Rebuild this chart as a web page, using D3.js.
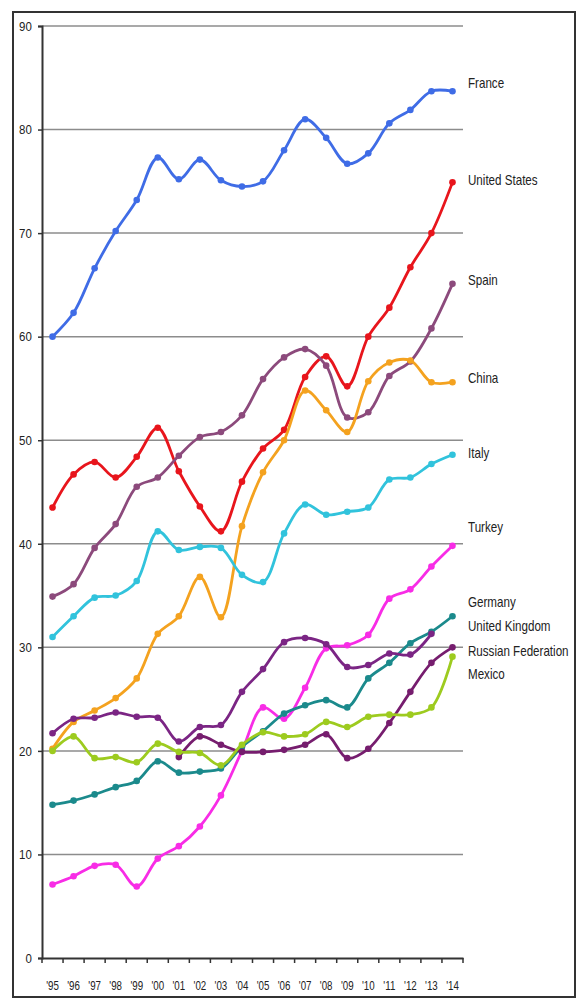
<!DOCTYPE html>
<html>
<head>
<meta charset="utf-8">
<script src="https://cdn.jsdelivr.net/npm/d3@7/dist/d3.min.js"></script>
<style>
html,body{margin:0;padding:0;background:#fff;}
svg{display:block;}
text{font-family:"Liberation Sans Narrow","Arial Narrow","Liberation Sans",Arial,sans-serif;fill:#222;}
</style>
</head>
<body>
<svg id="chart" width="577" height="1002"></svg>
<script>
const years = ["'95","'96","'97","'98","'99","'00","'01","'02","'03","'04","'05","'06","'07","'08","'09","'10","'11","'12","'13","'14"];
const yTicks = [0,10,20,30,40,50,60,70,80,90];

const france        = [60,62.3,66.6,70.2,73.2,77.3,75.2,77.1,75.1,74.5,75,78,81,79.2,76.7,77.7,80.6,81.9,83.7,83.7];
const unitedStates  = [43.5,46.7,47.9,46.4,48.4,51.2,47,43.6,41.2,46,49.2,51,56.1,58.1,55.2,60,62.8,66.7,70,74.9];
const spain         = [34.9,36.1,39.6,41.9,45.5,46.4,48.5,50.3,50.8,52.4,55.9,58,58.8,57.2,52.2,52.7,56.2,57.6,60.8,65.1];
const china         = [20.2,22.8,23.9,25.1,27,31.3,33,36.8,32.9,41.7,46.9,50,54.8,52.9,50.8,55.7,57.5,57.7,55.6,55.6];
const italy         = [31,33,34.8,35,36.4,41.2,39.4,39.7,39.6,37,36.3,41,43.8,42.8,43.1,43.5,46.2,46.4,47.7,48.6];
const turkey        = [7.1,7.9,8.9,9,6.9,9.6,10.8,12.7,15.7,20,24.2,23.1,26.1,29.9,30.2,31.2,34.7,35.6,37.8,39.8];
const germany       = [14.8,15.2,15.8,16.5,17.1,19,17.9,18,18.3,20.4,21.9,23.6,24.4,24.9,24.2,27,28.5,30.4,31.5,33];
const unitedKingdom = [21.7,23.1,23.2,23.7,23.3,23.2,20.9,22.3,22.5,25.7,27.9,30.5,30.9,30.3,28.1,28.3,29.4,29.3,31.3,null];
const russianFed    = [null,null,null,null,null,null,19.4,21.4,20.6,19.9,19.9,20.1,20.6,21.6,19.3,20.2,22.7,25.7,28.5,30];
const mexico        = [20,21.4,19.3,19.4,18.9,20.7,19.9,19.8,18.6,20.6,21.8,21.4,21.6,22.8,22.3,23.3,23.5,23.5,24.2,29.1];

const seriesNames  = ["France","United States","Spain","China","Italy","Turkey","Germany","United Kingdom","Russian Federation","Mexico"];
const seriesValues = [france,unitedStates,spain,china,italy,turkey,germany,unitedKingdom,russianFed,mexico];
const seriesColors = ["#3f6ce6","#e8151c","#8c4a7c","#f4a21f","#31c3dc","#f82ce6","#1b8a8c","#7b2584","#761d6e","#9dcb1f"];
const labelValues  = [84.5,75.1,65.5,56.0,48.8,41.6,34.4,32.1,29.7,27.4];
</script>
<script>
(function(){
const svg = d3.select("#chart");
const mLeft = 42, mRight = 463, mTop = 26, mBottom = 958;

const x = d3.scaleBand().domain(years).range([mLeft, mRight]);
const y = d3.scaleLinear().domain([0, 90]).range([mBottom, mTop]);

// outer frame
svg.append("rect").attr("x", 13).attr("y", 12).attr("width", 562).attr("height", 985)
  .attr("fill", "none").attr("stroke", "#333").attr("stroke-width", 2);

// gridlines
svg.append("g").selectAll("line").data(yTicks.filter(d => d > 0)).join("line")
  .attr("x1", mLeft).attr("x2", mRight)
  .attr("y1", d => y(d)).attr("y2", d => y(d))
  .attr("stroke", "#8c8c8c").attr("stroke-width", 1.5);

// y axis
const yAxis = svg.append("g").attr("transform", `translate(${mLeft},0)`)
  .call(d3.axisLeft(y).tickValues(yTicks).tickSize(4).tickPadding(8));
yAxis.select(".domain").attr("stroke", "#333").attr("stroke-width", 2);
yAxis.selectAll(".tick line").attr("stroke", "#333").attr("stroke-width", 1.5);
yAxis.selectAll("text").style("font-size", "13.5px").attr("fill", "#222")
  .attr("transform", "scale(0.85,1)");

// x axis
const xAxis = svg.append("g").attr("transform", `translate(0,${mBottom})`)
  .call(d3.axisBottom(x).tickSize(0).tickPadding(23));
xAxis.select(".domain").attr("stroke", "#333").attr("stroke-width", 2);
xAxis.selectAll("text").style("font-size", "12.5px").attr("fill", "#222")
  .attr("transform", "scale(0.78,1)");
const bounds = years.map(d => x(d)).concat([mRight]);
svg.append("g").selectAll("line").data(bounds).join("line")
  .attr("x1", d => d).attr("x2", d => d)
  .attr("y1", mBottom).attr("y2", mBottom + 5)
  .attr("stroke", "#333").attr("stroke-width", 1.5);

const cx = d => x(d) + x.bandwidth() / 2;
const line = d3.line()
  .defined(d => d.v !== null)
  .x(d => cx(d.year)).y(d => y(d.v))
  .curve(d3.curveCatmullRom.alpha(0.5));

seriesValues.forEach((vals, i) => {
  const pts = years.map((yr, j) => ({year: yr, v: vals[j]}));
  const g = svg.append("g");
  g.append("path").datum(pts).attr("d", line)
    .attr("fill", "none").attr("stroke", seriesColors[i]).attr("stroke-width", 2.8)
    .attr("stroke-linejoin", "round");
  g.selectAll("circle").data(pts.filter(d => d.v !== null)).join("circle")
    .attr("cx", d => cx(d.year)).attr("cy", d => y(d.v)).attr("r", 3.3)
    .attr("fill", seriesColors[i]);
});

// labels
svg.append("g").selectAll("text").data(seriesNames).join("text")
  .attr("transform", (d, i) => `translate(468,${y(labelValues[i])}) scale(0.8,1)`)
  .attr("dy", "0.35em")
  .style("font-size", "14.5px")
  .text(d => d);
})();
</script>
</body>
</html>
